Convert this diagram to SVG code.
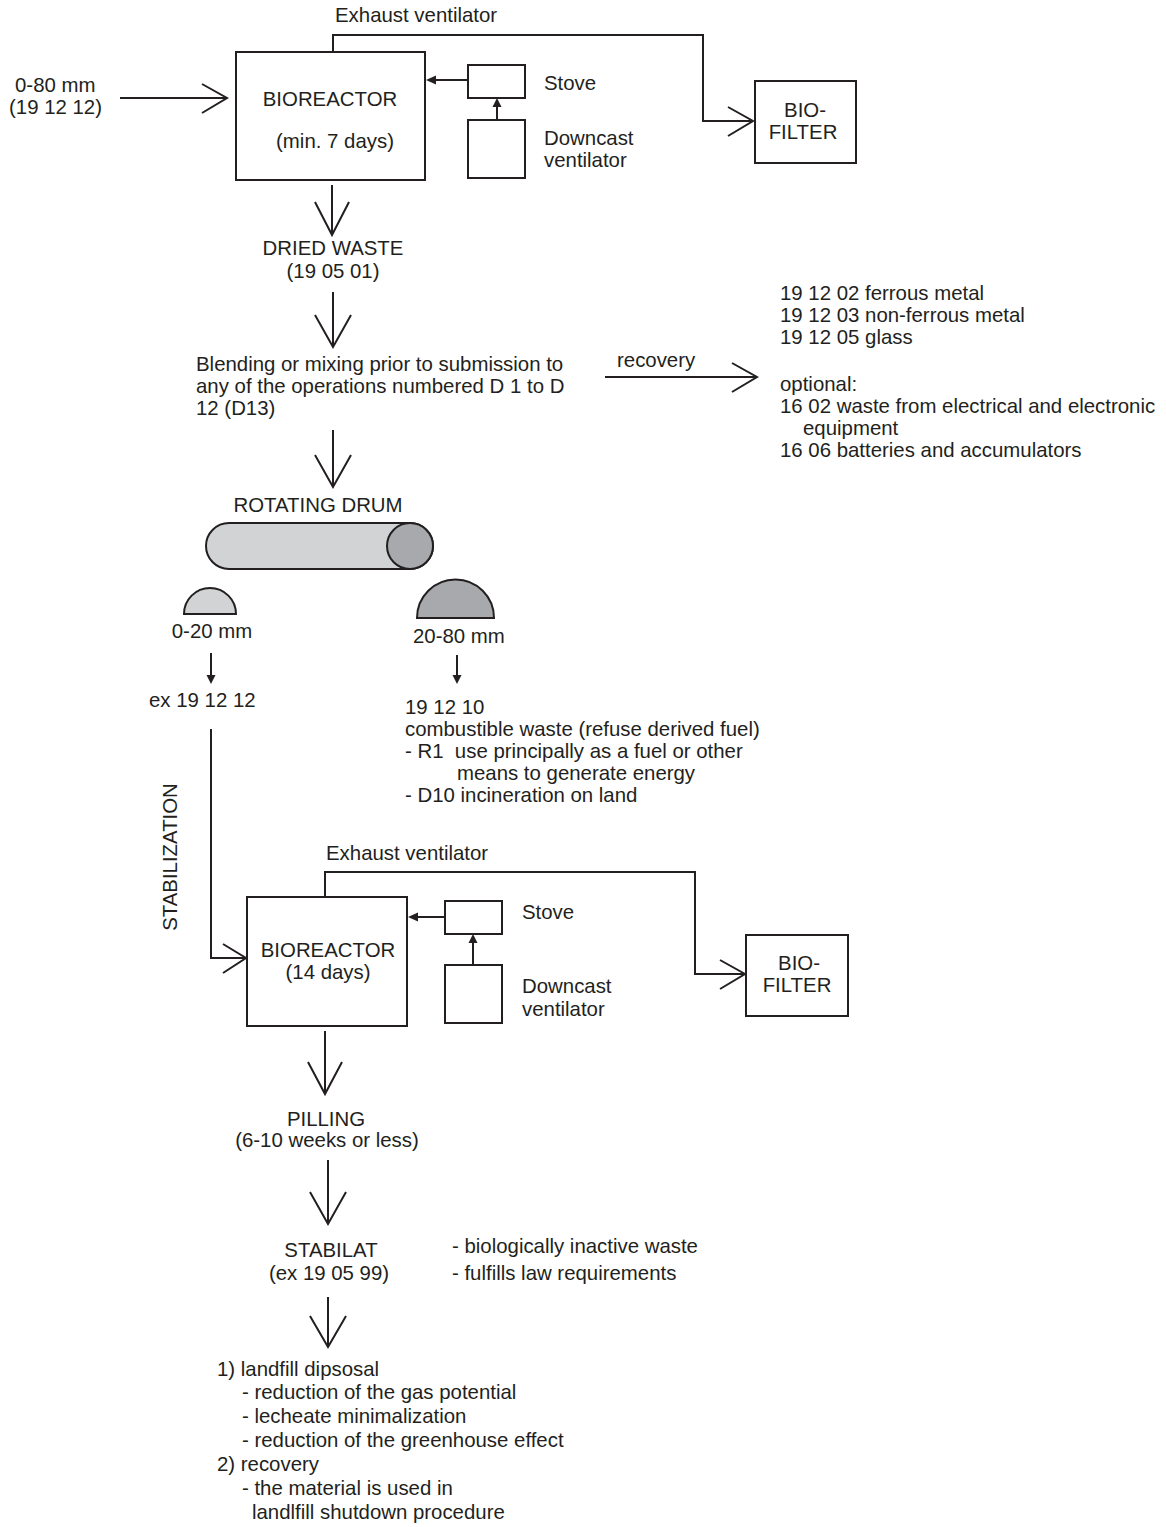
<svg xmlns="http://www.w3.org/2000/svg" width="1166" height="1527" viewBox="0 0 1166 1527">
<defs>
<style>
text{font-family:"Liberation Sans",Arial,Helvetica,sans-serif;font-size:20.4px;fill:#231f20}
.m{text-anchor:middle}
.box{fill:#fff;stroke:#231f20;stroke-width:2}
.ln{fill:none;stroke:#231f20;stroke-width:2}
.v{fill:none;stroke:#231f20;stroke-width:2;stroke-linejoin:miter}
.hd{fill:#231f20}
</style>
</defs>
<rect width="1166" height="1527" fill="#fff"/>

<g id="connectors">
  <line class="ln" x1="120" y1="98" x2="226" y2="98"/>
  <polyline class="v" points="202,84 227,98 202,113"/>
  <polyline class="ln" points="333,52 333,35 703,35 703,121 753,121"/>
  <polyline class="v" points="728,107 753,121 728,136"/>
  <line class="ln" x1="467" y1="80" x2="434" y2="80"/>
  <polygon class="hd" points="426,80 436,75.5 436,84.5"/>
  <line class="ln" x1="497" y1="120" x2="497" y2="106"/>
  <polygon class="hd" points="497,98 492.5,107 501.5,107"/>
  <line class="ln" x1="332" y1="185" x2="332" y2="234"/>
  <polyline class="v" points="315,202 332,235 349,202"/>
  <line class="ln" x1="333" y1="292" x2="333" y2="346"/>
  <polyline class="v" points="315,315 333,347 351,315"/>
  <line class="ln" x1="605" y1="377" x2="756" y2="377"/>
  <polyline class="v" points="732,363 757,377 732,392"/>
  <line class="ln" x1="333" y1="430" x2="333" y2="486"/>
  <polyline class="v" points="315,455 333,487 351,455"/>
  <line class="ln" x1="211" y1="653" x2="211" y2="676"/>
  <polygon class="hd" points="211,684 206.5,675 215.5,675"/>
  <line class="ln" x1="457" y1="655" x2="457" y2="676"/>
  <polygon class="hd" points="457,684 452.5,675 461.5,675"/>
  <polyline class="ln" points="211,729 211,958 245,958"/>
  <polyline class="v" points="223,944 246,958 223,973"/>
  <polyline class="ln" points="325,897 325,872 695,872 695,974 744,974"/>
  <polyline class="v" points="720,960 745,974 720,989"/>
  <line class="ln" x1="445" y1="917" x2="416" y2="917"/>
  <polygon class="hd" points="408,917 418,912.5 418,921.5"/>
  <line class="ln" x1="473" y1="965" x2="473" y2="942"/>
  <polygon class="hd" points="473,934 468.5,943 477.5,943"/>
  <line class="ln" x1="325" y1="1031" x2="325" y2="1093"/>
  <polyline class="v" points="308,1062 325,1094 342,1062"/>
  <line class="ln" x1="328" y1="1160" x2="328" y2="1223"/>
  <polyline class="v" points="310,1192 328,1224 346,1192"/>
  <line class="ln" x1="328" y1="1297" x2="328" y2="1346"/>
  <polyline class="v" points="310,1316 328,1347 346,1316"/>
</g>

<g id="input">
  <text x="15" y="92">0-80 mm</text>
  <text x="9" y="114">(19 12 12)</text>
</g>

<g id="exhaust1-label"><text x="335" y="22">Exhaust ventilator</text></g>

<g id="bioreactor1">
  <rect class="box" x="236" y="52" width="189" height="128"/>
  <text class="m" x="330" y="106">BIOREACTOR</text>
  <text class="m" x="335" y="148">(min. 7 days)</text>
</g>

<g id="stove1">
  <rect class="box" x="468" y="65" width="57" height="33"/>
  <text x="544" y="90">Stove</text>
</g>

<g id="downcast1">
  <rect class="box" x="468" y="120" width="57" height="58"/>
  <text x="544" y="145">Downcast</text>
  <text x="544" y="167">ventilator</text>
</g>

<g id="biofilter1">
  <rect class="box" x="755" y="81" width="101" height="82"/>
  <text class="m" x="805" y="117">BIO-</text>
  <text class="m" x="803" y="139">FILTER</text>
</g>

<g id="dried-waste">
  <text class="m" x="333" y="255">DRIED WASTE</text>
  <text class="m" x="333" y="278">(19 05 01)</text>
</g>

<g id="blending">
  <text x="196" y="371">Blending or mixing prior to submission to</text>
  <text x="196" y="393">any of the operations numbered D 1 to D</text>
  <text x="196" y="415">12 (D13)</text>
</g>

<g id="recovery-label"><text x="617" y="367">recovery</text></g>

<g id="recovered-materials">
  <text x="780" y="300">19 12 02 ferrous metal</text>
  <text x="780" y="322">19 12 03 non-ferrous metal</text>
  <text x="780" y="344">19 12 05 glass</text>
  <text x="780" y="391">optional:</text>
  <text x="780" y="413">16 02 waste from electrical and electronic</text>
  <text x="803" y="435">equipment</text>
  <text x="780" y="457">16 06 batteries and accumulators</text>
</g>

<g id="rotating-drum">
  <text class="m" x="318" y="512">ROTATING DRUM</text>
  <rect x="206" y="523" width="227" height="46" rx="23" ry="23" fill="#d1d3d4" stroke="#231f20" stroke-width="2"/>
  <circle cx="410" cy="546" r="23" fill="#a7a9ac" stroke="#231f20" stroke-width="2"/>
</g>

<g id="fraction-fine">
  <path d="M184,614 A26,26 0 0 1 236,614 Z" fill="#d1d3d4" stroke="#231f20" stroke-width="2"/>
  <text class="m" x="212" y="638">0-20 mm</text>
  <text x="149" y="707">ex 19 12 12</text>
</g>

<g id="fraction-coarse">
  <path d="M417,618 A38.5,38.5 0 0 1 494,618 Z" fill="#a7a9ac" stroke="#231f20" stroke-width="2"/>
  <text x="413" y="643">20-80 mm</text>
  <text x="405" y="714">19 12 10</text>
  <text x="405" y="736">combustible waste (refuse derived fuel)</text>
  <text x="405" y="758" xml:space="preserve">- R1  use principally as a fuel or other</text>
  <text x="457" y="780">means to generate energy</text>
  <text x="405" y="802">- D10 incineration on land</text>
</g>

<g id="stabilization-label">
  <text class="m" transform="translate(177,857) rotate(-90)">STABILIZATION</text>
</g>

<g id="exhaust2-label"><text x="326" y="860">Exhaust ventilator</text></g>

<g id="bioreactor2">
  <rect class="box" x="247" y="897" width="160" height="129"/>
  <text class="m" x="328" y="957">BIOREACTOR</text>
  <text class="m" x="328" y="979">(14 days)</text>
</g>

<g id="stove2">
  <rect class="box" x="445" y="901" width="57" height="33"/>
  <text x="522" y="919">Stove</text>
</g>

<g id="downcast2">
  <rect class="box" x="445" y="965" width="57" height="58"/>
  <text x="522" y="993">Downcast</text>
  <text x="522" y="1016">ventilator</text>
</g>

<g id="biofilter2">
  <rect class="box" x="746" y="935" width="102" height="81"/>
  <text class="m" x="799" y="970">BIO-</text>
  <text class="m" x="797" y="992">FILTER</text>
</g>

<g id="pilling">
  <text class="m" x="326" y="1126">PILLING</text>
  <text class="m" x="327" y="1147">(6-10 weeks or less)</text>
</g>

<g id="stabilat">
  <text class="m" x="331" y="1257">STABILAT</text>
  <text class="m" x="329" y="1280">(ex 19 05 99)</text>
  <text x="452" y="1253">- biologically inactive waste</text>
  <text x="452" y="1280">- fulfills law requirements</text>
</g>

<g id="outcomes">
  <text x="217" y="1376">1) landfill dipsosal</text>
  <text x="242" y="1399">- reduction of the gas potential</text>
  <text x="242" y="1423">- lecheate minimalization</text>
  <text x="242" y="1447">- reduction of the greenhouse effect</text>
  <text x="217" y="1471">2) recovery</text>
  <text x="242" y="1495">- the material is used in</text>
  <text x="252" y="1519">landlfill shutdown procedure</text>
</g>
</svg>
